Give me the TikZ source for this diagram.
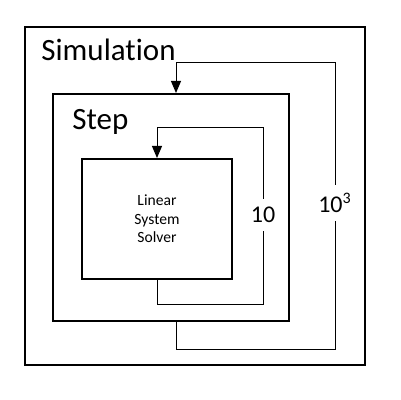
\documentclass[tikz,border=0pt]{standalone}
\usepackage{fontspec}
\setmainfont[Ligatures=NoCommon]{Carlito}
\usepackage{tikz}
\usetikzlibrary{arrows.meta, positioning, calc}

\begin{document}
\begin{tikzpicture}[x=0.5pt, y=-0.5pt,
    box/.style={draw, line width=1pt, inner sep=0pt},
    title/.style={anchor=base west, inner sep=0pt,
                  font=\fontsize{15.5}{18}\selectfont},
    count/.style={inner xsep=1pt, inner ysep=4pt,
                  font=\fontsize{12}{14}\selectfont},
    loopline/.style={line width=0.5pt},
    back/.style={loopline, -{Triangle[length=6pt, width=5pt]}}]
  \useasboundingbox (0,0) rectangle (400,400);
  % nested boxes
  \node[box, minimum width=170pt, minimum height=169pt] (sim) at (195,196) {};
  \node[box, minimum width=118pt, minimum height=113.5pt] (step) at (171,207.5) {};
  \node[box, minimum width=75pt, minimum height=60pt, align=center,
        font=\fontsize{7.8}{9.3}\selectfont]
    (solver) at (157,219) {Linear\\System\\Solver};
  % titles
  \node[title] (simtitle) at (41,61) {Simulation};
  \node[title] (steptitle) at (72,130) {Step};
  % iteration counts
  \node[count] (stepcount) at (263,215) {10};
  \node[count] (simcount) at (335,203) {10\textsuperscript{3}};
  \coordinate (stepback) at (263,304);
  \coordinate (simback) at (335,349);
  % inner loop
  \draw[loopline] (solver.south) |- (stepback) -- (stepcount);
  \draw[back] (stepcount) |- ($(solver.north)+(0,-30)$) -- (solver.north);
  % outer loop
  \draw[loopline] ([xshift=2.5pt]step.south) |- (simback) -- (simcount);
  \draw[back] (simcount) |- ($([xshift=2.5pt]step.north)+(0,-30)$)
    -- ([xshift=2.5pt]step.north);
\end{tikzpicture}
\end{document}
